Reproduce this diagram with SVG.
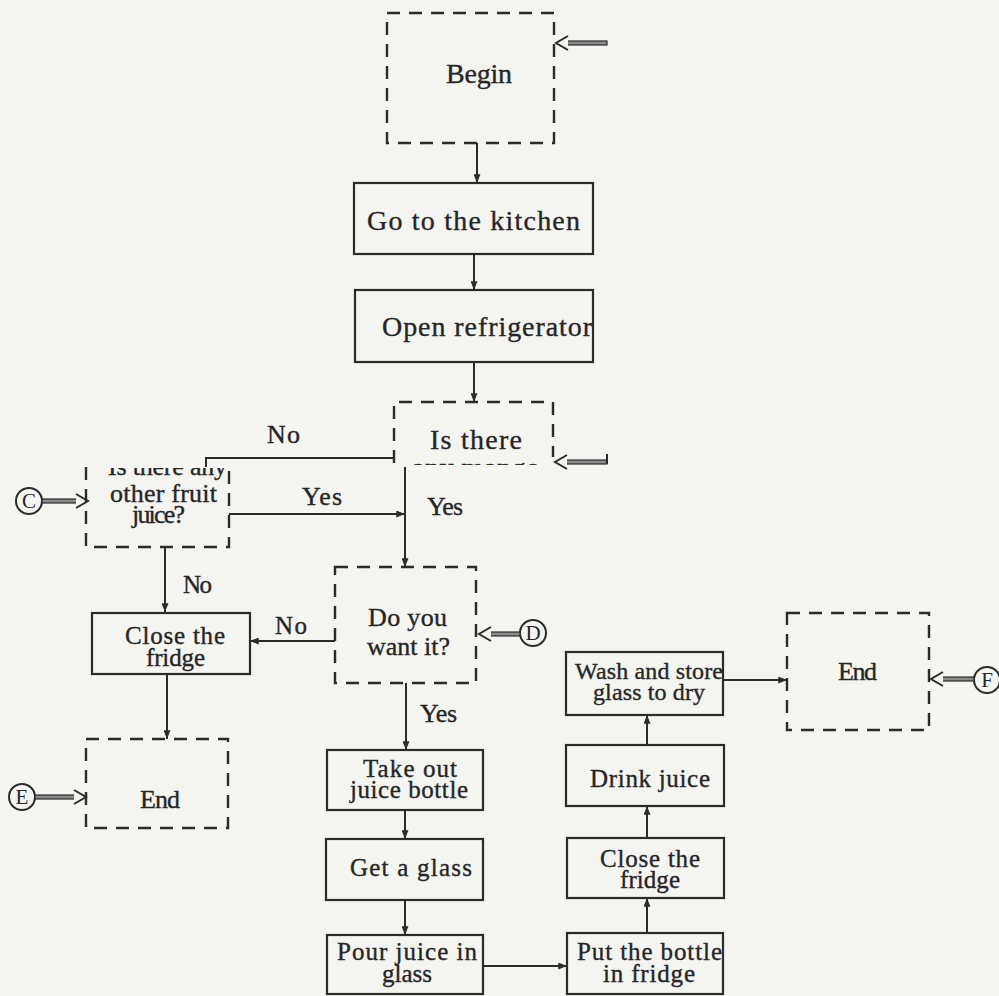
<svg xmlns="http://www.w3.org/2000/svg" width="999" height="996" viewBox="0 0 999 996">
<style>
.bg{fill:#f4f4f1}
.box{fill:none;stroke:#2b2b2b;stroke-width:2.2}
.dbox{fill:none;stroke:#2b2b2b;stroke-width:2.4;stroke-dasharray:13 9}
.ln{fill:none;stroke:#2b2b2b;stroke-width:2}
.t{font-family:"Liberation Serif","Times New Roman",serif;fill:#262626;stroke:#262626;stroke-width:0.35}
.s26{font-size:28px}
.s24{font-size:26px}
.s23{font-size:25px}
.s22{font-size:24px}
.cir{fill:none;stroke:#2b2b2b;stroke-width:2}
.cl{font-family:"Liberation Serif","Times New Roman",serif;font-size:21px;fill:#262626;text-anchor:middle}
.head{fill:#f4f4f1;stroke:#2b2b2b;stroke-width:2;stroke-linejoin:miter}
.shaft{fill:#8a8a8a;stroke:#2b2b2b;stroke-width:1.2}
</style>
<defs>
<marker id="ah" viewBox="0 0 10 8" refX="10" refY="4" markerWidth="9" markerHeight="7" markerUnits="userSpaceOnUse" orient="auto">
<path d="M0,0 L10,4 L0,8 z" fill="#2b2b2b"/>
</marker>
<clipPath id="clipMango"><rect x="380" y="0" width="200" height="465"/></clipPath>
<clipPath id="clipLeft"><rect x="80" y="468" width="160" height="100"/></clipPath>
</defs>
<rect class="bg" x="0" y="0" width="999" height="996"/>

<g id="connectors">
<path class="ln" d="M477,143 V183" marker-end="url(#ah)"/>
<path class="ln" d="M474,254 V290" marker-end="url(#ah)"/>
<path class="ln" d="M474,362 V402" marker-end="url(#ah)"/>
<path class="ln" d="M394,458 H206 V467"/>
<path class="ln" d="M229,514 H405" marker-end="url(#ah)"/>
<path class="ln" d="M405,467 V567" marker-end="url(#ah)"/>
<path class="ln" d="M165,547 V612" marker-end="url(#ah)"/>
<path class="ln" d="M335,641 H250" marker-end="url(#ah)"/>
<path class="ln" d="M167,674 V739" marker-end="url(#ah)"/>
<path class="ln" d="M406,683 V750" marker-end="url(#ah)"/>
<path class="ln" d="M405,810 V839" marker-end="url(#ah)"/>
<path class="ln" d="M405,900 V935" marker-end="url(#ah)"/>
<path class="ln" d="M483,966 H567" marker-end="url(#ah)"/>
<path class="ln" d="M647,933 V898" marker-end="url(#ah)"/>
<path class="ln" d="M647,838 V806" marker-end="url(#ah)"/>
<path class="ln" d="M647,745 V715" marker-end="url(#ah)"/>
<path class="ln" d="M723,680 H787" marker-end="url(#ah)"/>
<text class="t s24" x="267" y="443" textLength="33">No</text>
<text class="t s24" x="302" y="505" textLength="40">Yes</text>
<text class="t s24" x="427" y="515" textLength="36">Yes</text>
<text class="t s23" x="183" y="593" textLength="29">No</text>
<text class="t s23" x="275" y="634" textLength="32">No</text>
<text class="t s24" x="420" y="722" textLength="37">Yes</text>
</g>

<g id="entry-arrows">
<g id="arrow-begin">
<rect class="shaft" x="560" y="41" width="47" height="4"/>
<polyline class="head" points="568,36 556,43 568,50"/>
</g>
<g id="arrow-mango">
<rect class="shaft" x="559" y="460" width="48" height="4"/>
<path class="ln" d="M607,464 V454"/>
<polyline class="head" points="567,455 555,462 567,469"/>
</g>
<g id="conn-C">
<circle class="cir" cx="29" cy="501" r="13"/>
<text class="cl" x="29" y="508">C</text>
<rect class="shaft" x="42" y="499" width="42" height="4"/>
<polyline class="head" points="76,494 88,501 76,508"/>
</g>
<g id="conn-D">
<circle class="cir" cx="533" cy="633" r="13"/>
<text class="cl" x="533" y="640">D</text>
<rect class="shaft" x="483" y="632" width="37" height="4"/>
<polyline class="head" points="491,627 479,634 491,641"/>
</g>
<g id="conn-E">
<circle class="cir" cx="22" cy="797" r="13"/>
<text class="cl" x="22" y="804">E</text>
<rect class="shaft" x="35" y="795" width="47" height="4"/>
<polyline class="head" points="74,790 86,797 74,804"/>
</g>
<g id="conn-F">
<circle class="cir" cx="987" cy="680" r="13"/>
<text class="cl" x="987" y="687">F</text>
<rect class="shaft" x="935" y="677" width="39" height="4"/>
<polyline class="head" points="943,672 931,679 943,686"/>
</g>
</g>

<g id="begin">
<rect class="dbox" x="387" y="13" width="167" height="130"/>
<text class="t s26" x="446" y="83" textLength="66">Begin</text>
</g>
<g id="kitchen">
<rect class="box" x="354" y="183" width="239" height="71"/>
<text class="t s26" x="367" y="230" textLength="213">Go to the kitchen</text>
</g>
<g id="open">
<rect class="box" x="355" y="290" width="238" height="72"/>
<text class="t s26" x="382" y="336" textLength="210">Open refrigerator</text>
</g>
<g id="mango">
<path class="dbox" d="M394,463 V402 H553 V457"/>
<text class="t s26" x="430" y="449" textLength="92">Is there</text>
<text class="t s26" x="412" y="477" textLength="128" clip-path="url(#clipMango)">any mango</text>
</g>
<g id="other-fruit">
<path class="dbox" d="M86,467 V547 H229 V467"/>
<text class="t s24" x="108" y="475" textLength="119" clip-path="url(#clipLeft)">Is there any</text>
<text class="t s24" x="110" y="502" textLength="107">other fruit</text>
<text class="t s24" x="132" y="523" textLength="53">juice?</text>
</g>
<g id="want">
<rect class="dbox" x="335" y="567" width="141" height="116"/>
<text class="t s24" x="368" y="626" textLength="79">Do you</text>
<text class="t s24" x="367" y="655" textLength="83">want it?</text>
</g>
<g id="close-left">
<rect class="box" x="92" y="613" width="158" height="61"/>
<text class="t s23" x="125" y="644" textLength="100">Close the</text>
<text class="t s23" x="146" y="666" textLength="59">fridge</text>
</g>
<g id="end-left">
<rect class="dbox" x="86" y="739" width="142" height="89"/>
<text class="t s24" x="140" y="808" textLength="40">End</text>
</g>
<g id="take-out">
<rect class="box" x="327" y="750" width="156" height="60"/>
<text class="t s23" x="363" y="777" textLength="94">Take out</text>
<text class="t s23" x="350" y="798" textLength="118">juice bottle</text>
</g>
<g id="get-glass">
<rect class="box" x="326" y="839" width="157" height="61"/>
<text class="t s23" x="350" y="876" textLength="122">Get a glass</text>
</g>
<g id="pour">
<rect class="box" x="327" y="935" width="156" height="59"/>
<text class="t s23" x="337" y="960" textLength="140">Pour juice in</text>
<text class="t s23" x="382" y="982" textLength="50">glass</text>
</g>
<g id="put-bottle">
<rect class="box" x="567" y="933" width="156" height="61"/>
<text class="t s23" x="577" y="960" textLength="145">Put the bottle</text>
<text class="t s23" x="603" y="982" textLength="92">in fridge</text>
</g>
<g id="close-right">
<rect class="box" x="567" y="838" width="157" height="60"/>
<text class="t s23" x="600" y="867" textLength="100">Close the</text>
<text class="t s23" x="620" y="888" textLength="60">fridge</text>
</g>
<g id="drink">
<rect class="box" x="566" y="745" width="158" height="61"/>
<text class="t s23" x="590" y="787" textLength="120">Drink juice</text>
</g>
<g id="wash">
<rect class="box" x="566" y="652" width="157" height="63"/>
<text class="t s22" x="575" y="679" textLength="148">Wash and store</text>
<text class="t s22" x="593" y="700" textLength="112">glass to dry</text>
</g>
<g id="end-right">
<rect class="dbox" x="787" y="613" width="142" height="117"/>
<text class="t s24" x="838" y="680" textLength="39">End</text>
</g>
</svg>
